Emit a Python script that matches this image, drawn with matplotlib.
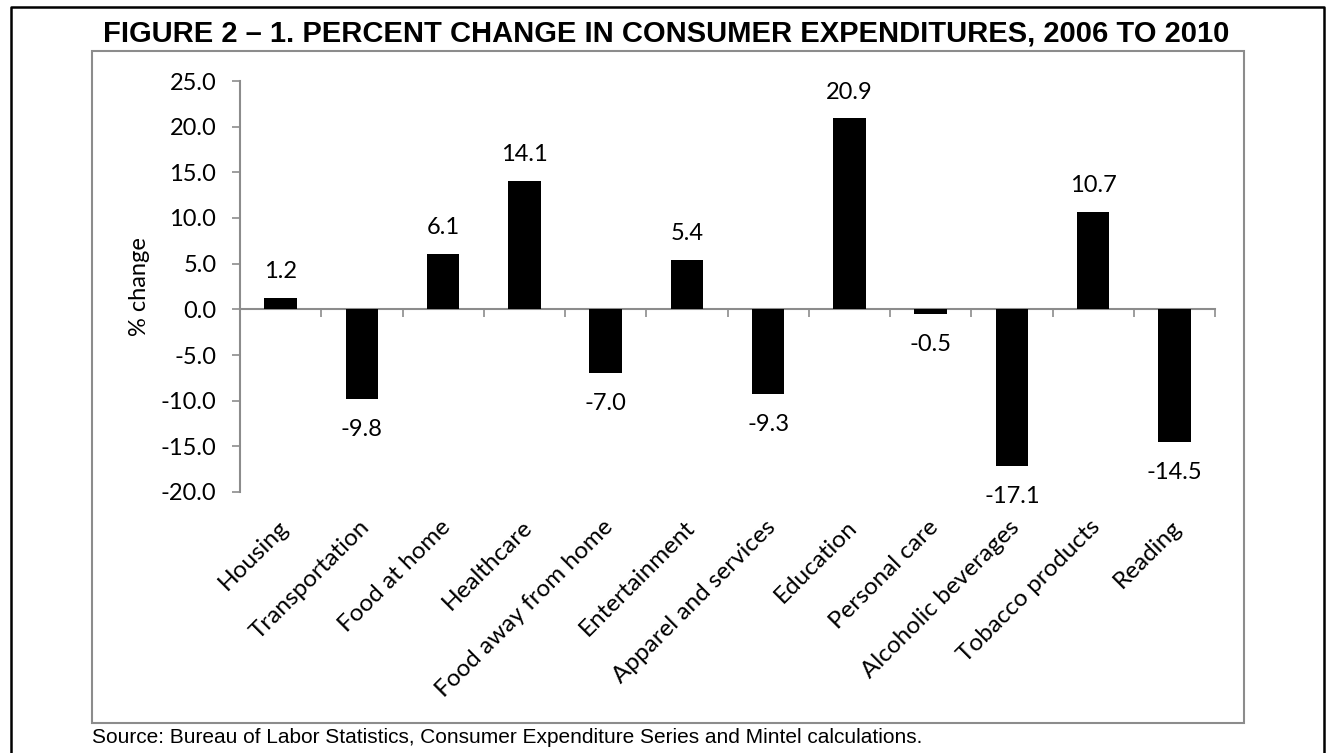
import numpy as np
import matplotlib
matplotlib.use("Agg")
import matplotlib.pyplot as plt
from matplotlib.lines import Line2D
from matplotlib.patches import Rectangle

# 数据
categories = ["Housing", "Transportation", "Food at home", "Healthcare",
              "Food away from home", "Entertainment", "Apparel and services",
              "Education", "Personal care", "Alcoholic beverages",
              "Tobacco products", "Reading"]
pct_change = [1.2, -9.8, 6.1, 14.1, -7.0, 5.4, -9.3, 20.9, -0.5, -17.1, 10.7, -14.5]
y_ticks = [-20, -15, -10, -5, 0, 5, 10, 15, 20, 25]

title = "FIGURE 2 \u2013 1. PERCENT CHANGE IN CONSUMER EXPENDITURES, 2006 TO 2010"
source = "Source: Bureau of Labor Statistics, Consumer Expenditure Series and Mintel calculations."

plt.rcParams["axes.unicode_minus"] = False
LABEL_FONT = ["Lato", "DejaVu Sans"]
HEAD_FONT = ["Liberation Sans", "DejaVu Sans"]
AXIS_GRAY = "#8c8c8c"
FS = 17

W, H = 1327, 753
fig = plt.figure(figsize=(W / 100, H / 100), dpi=100)

# 像素坐标 -> 图坐标
def fx(px):
    return px / W

def fy(py):
    return 1 - py / H

# 外框（底部开口）与图表区边框
fig.add_artist(Line2D([fx(11), fx(11), fx(1324), fx(1324)],
                      [fy(753), fy(7), fy(7), fy(753)],
                      color="black", lw=1.8, transform=fig.transFigure))
fig.add_artist(Rectangle((fx(92), fy(723)), fx(1244) - fx(92), fy(51) - fy(723),
                         fill=False, edgecolor=AXIS_GRAY, lw=1.5,
                         transform=fig.transFigure))

ax = fig.add_axes([fx(240), fy(492), fx(1215) - fx(240), fy(81) - fy(492)])
x = np.arange(len(categories))
ax.bar(x, pct_change, width=0.4, color="black", zorder=3)

ax.set_xlim(-0.5, len(categories) - 0.5)
ax.set_ylim(-20, 25)
ax.set_yticks(y_ticks)
ax.set_yticklabels([f"{v:.1f}" for v in y_ticks], fontfamily=LABEL_FONT, fontsize=FS)
ax.tick_params(axis="y", length=6, width=1.2, color=AXIS_GRAY, pad=11)

# x 轴在 0 处，刻度在类别边界
ax.spines["bottom"].set_position(("data", 0))
ax.spines["bottom"].set_color(AXIS_GRAY)
ax.spines["bottom"].set_linewidth(1.5)
ax.spines["left"].set_color(AXIS_GRAY)
ax.spines["left"].set_linewidth(1.5)
ax.spines["top"].set_visible(False)
ax.spines["right"].set_visible(False)
ax.set_xticks(np.arange(len(categories) + 1) - 0.5)
ax.set_xticklabels([])
ax.tick_params(axis="x", direction="out", length=6, width=1.2, color=AXIS_GRAY)

ax.set_ylabel("% change", fontfamily=LABEL_FONT, fontsize=FS)
ax.yaxis.set_label_coords((150 - 240) / 975, 0.5)

# 数据标签
for xi, v in zip(x, pct_change):
    off = 19 if v >= 0 else -22
    ax.annotate(f"{v:.1f}", (xi, v), xytext=(0, off), textcoords="offset points",
                ha="center", va="center", fontfamily=LABEL_FONT, fontsize=FS)

# 类别标签（45°）
for xi, name in zip(x, categories):
    ax.text(xi + 0.05, -0.077, name, transform=ax.get_xaxis_transform(),
            rotation=45, rotation_mode="anchor", ha="right", va="center",
            fontfamily=LABEL_FONT, fontsize=17.5)

fig.text(fx(666), fy(33), title, ha="center", va="center",
         fontfamily=HEAD_FONT, fontweight="bold", fontsize=21)
fig.text(fx(92), fy(743), source, ha="left", va="baseline",
         fontfamily=HEAD_FONT, fontsize=15)

fig.savefig("out.png", dpi=100)
